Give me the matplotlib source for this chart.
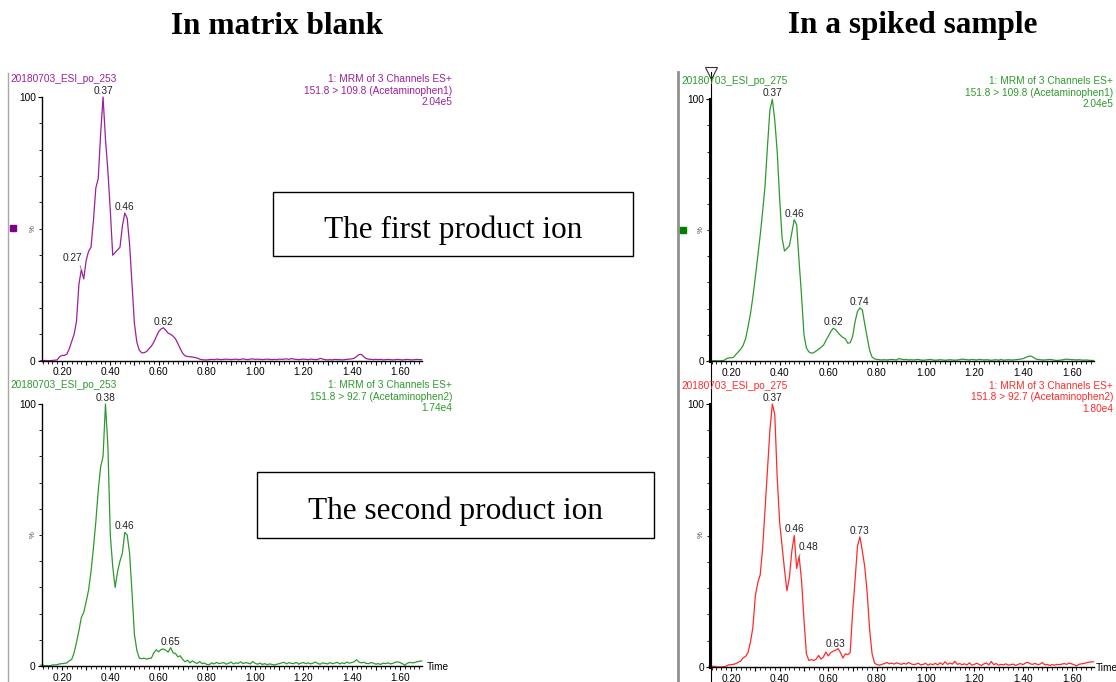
import numpy as np
import matplotlib
matplotlib.use('Agg')
import matplotlib.pyplot as plt
from matplotlib.patches import Rectangle
from matplotlib.ticker import MultipleLocator, FixedLocator, FuncFormatter

plt.rcParams['font.family'] = ['Liberation Sans', 'DejaVu Sans']

# scan times (min) shared by all four chromatograms
times = np.round(np.arange(0.11, 1.695, 0.01), 2)

# relative intensity (%), 0.11 ... 1.69 min
blank_ion1 = [
    0, 0, 0.1, 0, 0, 0.1, 0.2, 0.3, 1.5, 2.0,
    2.0, 2.5, 4.5, 7.2, 10, 15, 29, 34.5, 31, 38,
    41.5, 43, 53, 65.5, 69, 86, 100, 84, 72, 57,
    40, 41, 42, 43, 51, 56, 54, 44, 29, 14,
    7, 4, 3, 3, 3.5, 4.5, 5.5, 7, 9, 11,
    12, 12.5, 11.5, 10.4, 10, 9.3, 8.3, 6.5, 4.5, 2.8,
    1.8, 1.6, 1.5, 1.4, 1.2, 1.0, 0.6, 0.4, 0.3, 0.3,
    0.4, 0.5, 0.4, 0.6, 0.5, 0.4, 0.5, 0.6, 0.5, 0.4,
    0.5, 0.6, 0.4, 0.5, 0.7, 0.5, 0.4, 0.6, 0.7, 0.5,
    0.6, 0.5, 0.4, 0.5, 0.6, 0.5, 0.4, 0.5, 0.4, 0.6,
    0.5, 0.6, 0.7, 0.5, 0.8, 0.6, 0.5, 0.4, 0.5, 0.6,
    0.5, 0.4, 0.6, 0.5, 0.4, 0.5, 0.9, 0.6, 0.4, 0.3,
    0.4, 0.3, 0.5, 0.4, 0.4, 0.3, 0.4, 0.5, 0.6, 0.7,
    0.9, 1.6, 2.3, 2.4, 1.5, 0.8, 0.6, 0.5, 0.4, 0.5,
    0.4, 0.5, 0.3, 0.4, 0.5, 0.4, 0.3, 0.4, 0.5, 0.4,
    0.3, 0.4, 0.5, 0.4, 0.3, 0.4, 0.5, 0.4, 0.4,
]
blank_ion2 = [
    0.3, 0.3, 0.1, 0.2, 0, 0.4, 0.4, 0.5, 0.8, 0.9,
    1.0, 1.2, 2.0, 2.5, 5, 9, 13.5, 18.5, 20.5, 24.5,
    29, 36, 45, 55, 67, 76, 80, 100, 84, 50,
    38, 30, 36, 40, 43, 51, 50, 43, 28, 12,
    6, 3, 2.8, 3.0, 2.6, 2.9, 3.0, 5.0, 6.2, 5.4,
    6.3, 6.5, 6.0, 5.3, 7.0, 5.0, 4.8, 3.5, 3.9, 2.5,
    1.6, 2.2, 1.2, 2.0, 1.3, 1.0, 1.7, 0.9, 1.1, 0.6,
    0.5, 1.2, 0.8, 1.4, 0.9, 1.1, 1.3, 0.7, 1.0, 1.5,
    0.8, 1.2, 1.0, 1.6, 0.9, 1.3, 1.1, 0.8, 1.7, 1.0,
    0.7, 1.1, 0.6, 0.9, 0.5, 0.8, 0.6, 0.4, 0.7, 0.9,
    1.2, 1.4, 0.8, 1.3, 1.0, 0.9, 1.4, 0.7, 1.1, 1.3,
    0.9, 1.2, 0.8, 1.1, 1.5, 0.9, 0.7, 1.2, 1.0, 0.8,
    1.3, 0.9, 1.1, 1.4, 0.8, 1.2, 0.9, 1.5, 1.1, 1.3,
    1.6, 2.4, 1.5, 1.2, 1.4, 1.0, 0.9, 1.3, 1.1, 0.7,
    0.9, 0.6, 1.1, 0.9, 1.2, 0.8, 1.0, 1.4, 1.6, 1.3,
    0.9, 0.3, 1.0, 1.4, 1.2, 1.3, 1.6, 1.8, 1.9,
]
spiked_ion1 = [
    0, 0, 0.1, 0.1, 0, 0.1, 0.2, 0.8, 1.2, 1.2,
    1.4, 2.5, 3.5, 4.5, 6, 8.5, 13, 18, 24.5, 32,
    40, 48, 57, 67, 82, 96, 100, 92, 80, 62,
    47, 42, 43, 44, 49, 54, 52, 38, 25, 10,
    5, 3.5, 3, 3.2, 3.8, 4.5, 5.2, 6, 7.8, 9.5,
    11.2, 12.5, 12, 10.8, 9.8, 9.0, 8.5, 6.8, 7.0, 9.4,
    15, 19, 20.3, 19.5, 14, 9, 4, 1.5, 0.8, 0.6,
    0.5, 0.4, 0.5, 0.4, 0.5, 0.6, 0.5, 0.4, 0.9, 0.7,
    0.5, 0.6, 0.4, 0.5, 0.4, 0.5, 0.6, 0.4, 0.3, 0.4,
    0.5, 0.6, 0.4, 0.3, 0.4, 0.5, 0.4, 0.3, 0.4, 0.5,
    0.4, 0.3, 0.4, 0.5, 0.7, 0.6, 0.5, 0.4, 0.6, 0.5,
    0.4, 0.6, 0.5, 0.4, 0.5, 0.4, 0.3, 0.4, 0.5, 0.3,
    0.6, 0.3, 0.4, 0.5, 0.4, 0.4, 0.5, 0.6, 0.7, 0.9,
    1.3, 1.7, 1.9, 1.6, 0.9, 0.6, 0.5, 0.4, 0.4, 0.5,
    0.6, 0.5, 0.3, 0.2, 0.3, 0.4, 0.6, 0.7, 0.6, 0.5,
    0.5, 0.4, 0.5, 0.4, 0.3, 0.4, 0.3, 0.2, 0.2,
]
spiked_ion2 = [
    0.3, 0.2, 0.3, 0.1, 0, 0, 0.1, 0.3, 0.8, 0.9,
    1.0, 1.3, 1.8, 2.2, 3.5, 4, 5.5, 9.5, 15, 27,
    32, 35, 45, 60, 75, 90, 100, 96, 72, 55,
    46, 37, 29, 34, 44, 50, 37.5, 42, 33, 18,
    5, 2.5, 2.8, 2.5, 3.0, 4.4, 3.0, 3.8, 5.7, 4.2,
    5.5, 6.0, 6.4, 7.0, 5.5, 3.4, 5.0, 4.7, 5.5, 21,
    33, 46, 49.5, 44, 38, 28, 14, 5, 1.5, 0.9,
    0.7, 1.0, 1.3, 1.7, 1.2, 1.5, 1.1, 1.6, 1.3, 1.0,
    1.4, 1.1, 1.7, 1.2, 0.9, 1.1, 1.4, 0.8, 1.0, 1.4,
    0.7, 1.2, 0.9, 1.4, 0.8, 1.6, 0.9, 2.0, 1.0, 1.5,
    1.1, 2.2, 1.0, 1.3, 0.9, 1.2, 0.8, 1.6, 0.7, 1.0,
    1.4, 1.0, 0.6, 1.2, 1.5, 0.8, 2.1, 0.9, 1.3, 0.7,
    1.0, 0.8, 1.2, 0.7, 0.9, 1.1, 0.6, 1.0, 1.3, 0.9,
    1.5, 1.8, 1.2, 1.0, 1.4, 0.9, 1.1, 1.7, 0.8, 1.0,
    0.6, 0.9, 0.7, 1.0, 0.9, 1.1, 1.3, 1.0, 1.5, 1.2,
    0.9, 0.4, 1.0, 1.2, 1.3, 1.6, 1.8, 1.9, 2.0,
]

# peak labels: (time of the marked point, label text)
blank_ion1_peaks = [(0.28, '0.27'), (0.37, '0.37'), (0.46, '0.46'), (0.62, '0.62')]
blank_ion2_peaks = [(0.38, '0.38'), (0.46, '0.46'), (0.65, '0.65')]
spiked_ion1_peaks = [(0.37, '0.37'), (0.46, '0.46'), (0.62, '0.62'), (0.73, '0.74')]
spiked_ion2_peaks = [(0.37, '0.37'), (0.46, '0.46'), (0.48, '0.48'), (0.63, '0.63'), (0.73, '0.73')]

purple = '#9b209b'
green = '#2e9a2e'
red = '#ff2a2a'

W, H = 1116, 682
fig = plt.figure(figsize=(W / 100, H / 100), dpi=100)


def add_panel(left, right, top, bottom, thick):
    ax = fig.add_axes([left / W, 1 - bottom / H, (right - left) / W, (bottom - top) / H])
    ax.patch.set_alpha(0)
    ax.set_xlim(0.115, 1.69)
    ax.set_ylim(0, 100)
    for s in ['top', 'right']:
        ax.spines[s].set_visible(False)
    ax.spines['left'].set_linewidth(2.2 if thick else 1.0)
    ax.spines['bottom'].set_linewidth(1.0)
    ax.xaxis.set_major_locator(MultipleLocator(0.1))
    ax.xaxis.set_minor_locator(MultipleLocator(0.02))
    ax.xaxis.set_major_formatter(FuncFormatter(
        lambda v, _: f'{v:.2f}' if round(v * 10) % 2 == 0 else ''))
    ax.set_yticks([0, 100])
    ax.set_yticklabels(['0', '100'])
    ax.yaxis.set_minor_locator(FixedLocator(range(10, 100, 10)))
    ax.tick_params(axis='x', which='major', length=3.2, width=0.8, pad=1.5, labelsize=7.3)
    ax.tick_params(axis='x', which='minor', length=2.0, width=0.6)
    ax.tick_params(axis='y', which='major', length=3.2, width=0.8, pad=1, labelsize=7.3)
    ax.tick_params(axis='y', which='minor', length=2.0, width=0.6)
    return ax


def draw_trace(ax, values, color, peaks, leaders):
    ax.plot(times, values, color=color, lw=0.9, clip_on=False)
    for t, lab in peaks:
        i = int(np.argmin(np.abs(times - t)))
        if lab in leaders:
            dx, dy, rx = leaders[lab]
            ax.annotate(lab, xy=(times[i], values[i]), xytext=(dx, dy),
                        textcoords='offset pixels', ha='center', va='center',
                        fontsize=7.3, color='#222222',
                        arrowprops=dict(arrowstyle='-', color='#777777', lw=0.6,
                                        shrinkA=0, shrinkB=0, relpos=(rx, 0)))
        else:
            ax.annotate(lab, xy=(times[i], values[i]), xytext=(0, 6),
                        textcoords='offset pixels', ha='center', va='center',
                        fontsize=7.3, color='#222222')


ax_tl = add_panel(41.5, 421.7, 97, 360.7, False)
ax_bl = add_panel(41.5, 421.7, 404, 666, False)
ax_tr = add_panel(710.3, 1093.5, 99.3, 361, True)
ax_br = add_panel(710.3, 1093.5, 404, 667, True)

draw_trace(ax_tl, blank_ion1, purple, blank_ion1_peaks, {'0.27': (-9, 12, 0.85)})
draw_trace(ax_bl, blank_ion2, green, blank_ion2_peaks, {})
draw_trace(ax_tr, spiked_ion1, green, spiked_ion1_peaks, {})
draw_trace(ax_br, spiked_ion2, red, spiked_ion2_peaks, {'0.48': (9, 10, 0.15)})

# overlay in pixel coordinates for titles, headers and boxes
ov = fig.add_axes([0, 0, 1, 1])
ov.set_xlim(0, W)
ov.set_ylim(H, 0)
ov.axis('off')
ov.patch.set_alpha(0)

serif = ['Liberation Serif', 'DejaVu Serif']
ov.text(277, 26, 'In matrix blank', family=serif, fontsize=22.5, fontweight='bold',
        ha='center', va='center')
ov.text(913, 26, 'In a spiked sample', family=serif, fontsize=22.5, fontweight='bold',
        ha='center', va='center')

ov.add_patch(Rectangle((273, 192), 360, 64, fill=True, facecolor='white',
                       edgecolor='black', lw=1.0))
ov.text(453, 230, 'The first product ion', family=serif, fontsize=22.5,
        ha='center', va='center')
ov.add_patch(Rectangle((257, 472), 397, 66, fill=True, facecolor='white',
                       edgecolor='black', lw=1.0))
ov.text(456, 511, 'The second product ion', family=serif, fontsize=22.5,
        ha='center', va='center')

# separators and cursor line
ov.plot([8, 8], [73, 682], color='#a8a8a8', lw=1.0)
ov.plot([678, 678], [72, 682], color='#909090', lw=2.0)
ov.plot([711, 711], [72, 682], color='black', lw=0.8)
ov.plot([711], [73], marker='v', ms=9, mfc='none', mec='#333333', mew=0.8)

# channel headers
headers = [
    (10, 452, 79, purple, '20180703_ESI_po_253', '151.8 > 109.8 (Acetaminophen1)', '2.04e5'),
    (10, 452, 385, green, '20180703_ESI_po_253', '151.8 > 92.7 (Acetaminophen2)', '1.74e4'),
    (681, 1113, 81, green, '20180703_ESI_po_275', '151.8 > 109.8 (Acetaminophen1)', '2.04e5'),
    (681, 1113, 386, red, '20180703_ESI_po_275', '151.8 > 92.7 (Acetaminophen2)', '1.80e4'),
]
for xl, xr, y, c, name, trans, scale in headers:
    ov.text(xl, y, name, color=c, fontsize=7.3, ha='left', va='center')
    ov.text(xr, y, '1: MRM of 3 Channels ES+', color=c, fontsize=7.3, ha='right', va='center')
    ov.text(xr, y + 11.5, trans, color=c, fontsize=7.3, ha='right', va='center')
    ov.text(xr, y + 23, scale, color=c, fontsize=7.3, ha='right', va='center')

# % axis labels and channel squares
for x, y in [(33, 229), (33, 535), (701, 230), (701, 535)]:
    ov.text(x, y, '%', rotation=90, fontsize=5.5, color='#444444', ha='center', va='center')
ov.plot([13], [228], marker='s', ms=4.5, color='#800080', ls='none')
ov.plot([683], [230], marker='s', ms=4.5, color='#008000', ls='none')

ov.text(427, 667, 'Time', fontsize=7.3, ha='left', va='center')
ov.text(1096, 668, 'Time', fontsize=7.3, ha='left', va='center')

fig.savefig('out.png', dpi=100)
